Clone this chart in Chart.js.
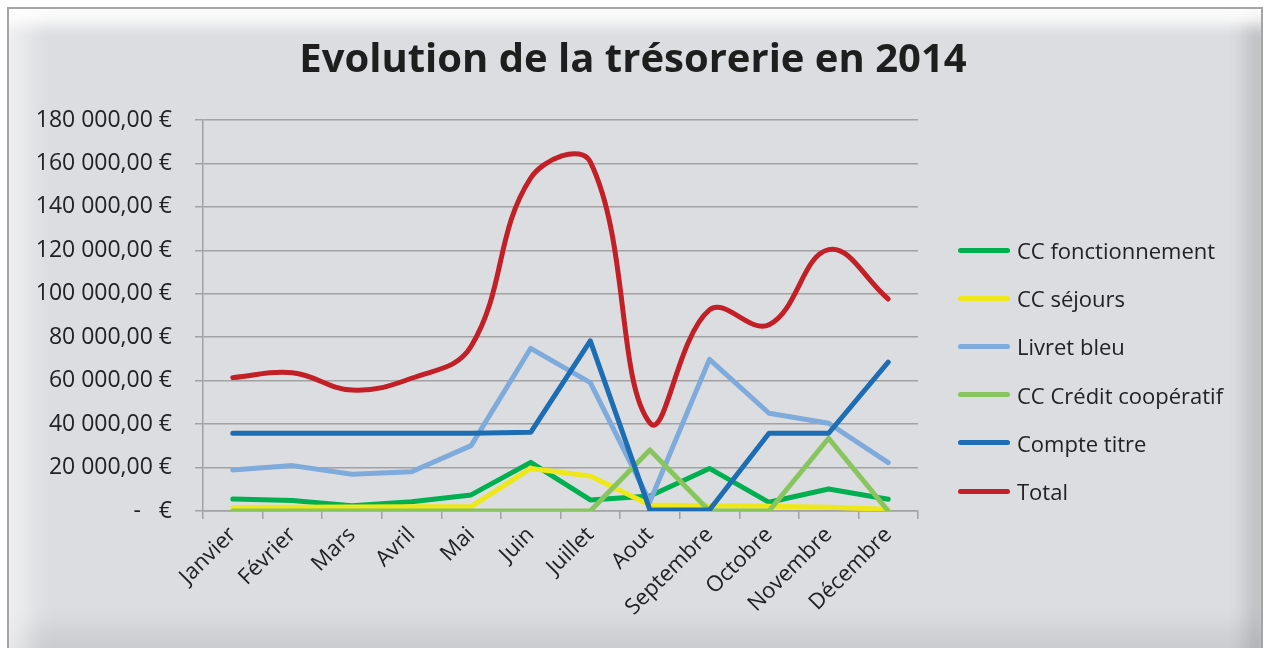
<!DOCTYPE html>
<html lang="fr">
<head>
<meta charset="utf-8">
<title>Evolution de la trésorerie en 2014</title>
<script src="https://cdn.jsdelivr.net/npm/chart.js@4.4.1/dist/chart.umd.min.js"></script>
<style>
  html, body { margin: 0; padding: 0; background: #ffffff; }
  body { width: 1266px; height: 648px; position: relative; overflow: hidden; font-family: "Open Sans", sans-serif; }
  .frame {
    position: absolute; left: 7px; top: 7px; width: 1252px; height: 650px;
    border: 2px solid #a4a4a4; border-bottom: none;
    background: #dcdde0;
    box-shadow:
      inset 0 24px 14px -8px rgba(255,255,255,0.9),
      inset 36px 0 26px -16px rgba(255,255,255,0.55),
      inset -26px 0 18px -10px rgba(0,0,0,0.13),
      inset 0 -44px 26px -14px rgba(0,0,0,0.08);
  }
  #chart { position: absolute; left: 0; top: 0; }
  #legend { position: absolute; left: 958px; top: 226px; }
  .item { height: 48.2px; display: flex; align-items: center; font-size: 22px; color: #222; }
  .item span.line { display: inline-block; width: 52px; height: 5px; border-radius: 3px; margin-right: 7px; }
</style>
</head>
<body>
<div class="frame"></div>
<canvas id="chart" width="1266" height="648"></canvas>
<div id="legend"></div>
<script>
// Données
const months = ['Janvier', 'Février', 'Mars', 'Avril', 'Mai', 'Juin', 'Juillet', 'Aout', 'Septembre', 'Octobre', 'Novembre', 'Décembre'];

const ccFonctionnement = [5500, 4800, 2400, 4300, 7400, 22400, 5100, 6900, 19600, 4000, 10100, 5400];
const ccSejours        = [1600, 1700, 1800, 1900, 2000, 19600, 16100, 2800, 2400, 2200, 1700, 800];
const livretBleu       = [18900, 20900, 16900, 18100, 30100, 74900, 59100, 4300, 69800, 45000, 40400, 22300];
const ccCreditCoop     = [0, 0, 0, 0, 0, 0, 0, 28100, 0, 0, 33500, 0];
const compteTitre      = [35800, 35800, 35800, 35800, 35800, 36200, 78300, 500, 500, 35800, 35800, 68500];
const total            = [61400, 63600, 55700, 61100, 75800, 153300, 160700, 40600, 92600, 85700, 120300, 97600];

const yMax = 180000;
const yStep = 20000;

const series = [
    { label: 'CC fonctionnement', data: ccFonctionnement, color: '#00b050' },
    { label: 'CC séjours', data: ccSejours, color: '#eee81a' },
    { label: 'Livret bleu', data: livretBleu, color: '#7eaadc' },
    { label: 'CC Crédit coopératif', data: ccCreditCoop, color: '#88c55e' },
    { label: 'Compte titre', data: compteTitre, color: '#1c6db4' },
    { label: 'Total', data: total, color: '#c21f27', smooth: true }
];

function euro(v) {
    if (v === 0) return '-   €';
    return String(v).replace(/\B(?=(\d{3})+(?!\d))/g, ' ') + ',00 €';
}

Chart.defaults.font.family = '"Open Sans", sans-serif';
Chart.defaults.color = '#222';

const gridColor = '#a2a2a2';

var ctx = document.getElementById('chart').getContext('2d');
var chart = new Chart(ctx, {
    type: 'line',
    data: {
        labels: months,
        datasets: series.map(function(s, i) {
            return {
                label: s.label,
                data: s.data,
                borderColor: s.color,
                backgroundColor: s.color,
                borderWidth: 5,
                borderCapStyle: 'round',
                borderJoinStyle: 'round',
                pointRadius: 0,
                tension: s.smooth ? 0.4 : 0,
                order: series.length - i // Excel draws later series on top
            };
        })
    },
    options: {
        responsive: false,
        animation: false,
        layout: { padding: { left: 0, right: 0, top: 0, bottom: 0 } },
        plugins: {
            legend: { display: false },
            tooltip: { enabled: false },
            title: {
                display: true,
                text: 'Evolution de la trésorerie en 2014',
                color: '#1e1e1e',
                font: { size: 40, weight: 'bold' },
                padding: { top: 37, bottom: 35 }
            }
        },
        scales: {
            x: {
                offset: true,
                grid: { display: true, drawOnChartArea: false, drawTicks: true, tickLength: 8, offset: true, color: gridColor, lineWidth: 1.5 },
                border: { display: true, color: gridColor, width: 1.5 },
                ticks: { font: { size: 22 }, maxRotation: 45, minRotation: 45, padding: 3, color: '#222' },
                afterFit: function(scale) { scale.height = 137; }
            },
            y: {
                min: 0,
                max: yMax,
                grid: { color: gridColor, lineWidth: 1.5, tickLength: 8 },
                border: { display: true, color: gridColor, width: 1.5 },
                ticks: { stepSize: yStep, font: { size: 23 }, padding: 23, color: '#222', callback: euro },
                afterFit: function(scale) { scale.width = 203; }
            },
            spacer: {
                // empty axis reserving room for the legend on the right
                position: 'right',
                display: true,
                grid: { display: false },
                border: { display: false },
                ticks: { display: false },
                afterFit: function(scale) { scale.width = 348; }
            }
        }
    }
});

// Légende
var legend = document.getElementById('legend');
series.forEach(function(s) {
    var item = document.createElement('div');
    item.className = 'item';
    item.innerHTML = '<span class="line" style="background:' + s.color + '"></span>' + s.label;
    legend.appendChild(item);
});
</script>
</body>
</html>
